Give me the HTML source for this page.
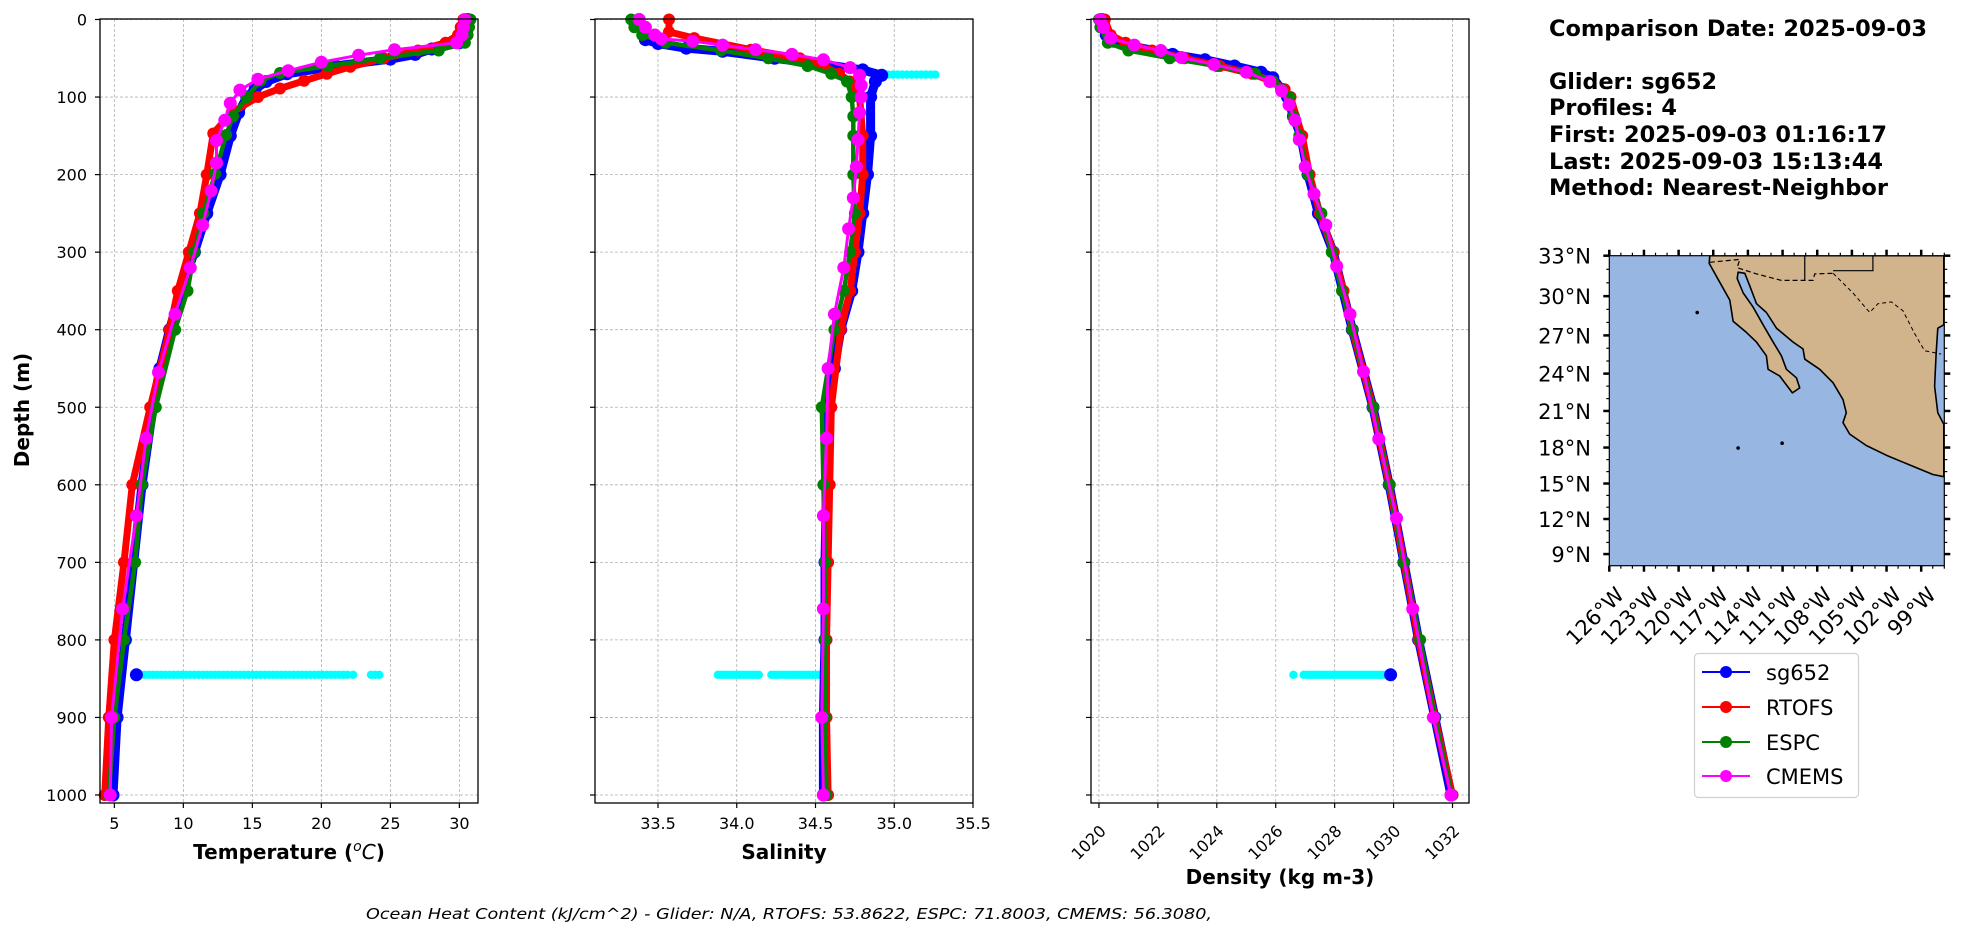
<!DOCTYPE html>
<html><head><meta charset="utf-8"><style>
html,body{margin:0;padding:0;background:#fff;}
svg{display:block;font-family:"DejaVu Sans","Liberation Sans",sans-serif;}
</style></head><body>
<svg id="fig" width="1978" height="934" viewBox="0 0 1978 934" xmlns="http://www.w3.org/2000/svg"></svg>
<script>
// ---------- DATA ----------
const depthTicks = [0,100,200,300,400,500,600,700,800,900,1000];
const tempTicks = [5,10,15,20,25,30];
const salTicks = ["33.5","34.0","34.5","35.0","35.5"];
const densTicks = [1020,1022,1024,1026,1028,1030,1032];

// Temperature
const tDepthSg = [0,10,20,30,38,45,51,60,70,80,90,100,120,150,200,250,300,350,400,450,500,600,700,800,900,1000];
const tSg      = [30.6,30.5,30.3,30.0,28.0,26.8,25.0,21.0,17.5,16.0,15.2,14.6,14.0,13.4,12.66,11.7,10.8,9.8,9.0,8.3,7.8,7.0,6.4,5.8,5.2,4.9];
const tDepthRt = [0,10,20,30,40,50,61,70,79,89,100,120,147,200,250,300,350,400,500,600,700,800,900,1000];
const tRt      = [30.3,30.1,29.9,29.0,27.0,24.5,22.1,20.4,18.75,17.0,15.4,13.5,12.17,11.7,11.2,10.4,9.6,9.0,7.6,6.3,5.7,5.0,4.6,4.3];
const tDepthEs = [0,10,20,30,40,50,60,69,79,100,125,149,199,250,300,350,400,500,600,700,800,900,1000];
const tEs      = [30.8,30.7,30.6,30.4,28.5,24.25,20.5,17.0,15.6,14.6,13.6,13.1,12.3,11.45,10.8,10.3,9.4,8.0,7.0,6.5,5.7,5.0,4.6];
const tDepthCm = [0,10,20,30,39,46,55,66,77,91,108,130,156,185,221,265,320,380,455,540,640,760,900,1000];
const tCm      = [30.4,30.3,30.2,29.8,25.3,22.7,20.0,17.6,15.4,14.1,13.4,13.0,12.4,12.4,12.0,11.4,10.5,9.4,8.2,7.3,6.6,5.6,4.8,4.7];
const tCyanDepth = 845;
const tCyan = [6.9,7.2,7.5,7.8,8.1,8.4,8.7,9.0,9.3,9.6,9.9,10.2,10.5,10.8,11.1,11.4,11.7,12.0,12.3,12.6,12.9,13.2,13.5,13.8,14.1,14.4,14.7,15.0,15.3,15.6,15.9,16.2,16.5,16.8,17.1,17.4,17.7,18.0,18.3,18.6,18.9,19.2,19.5,19.8,20.1,20.4,20.7,21.0,21.3,21.6,21.9,22.3,23.6,23.9,24.2];
const tOutlier = [6.6];

// Salinity
const sDepthSg = [0,10,20,26,31,37,41,50,58,65,72,80,100,150,200,250,300,350,400,450,500,600,700,800,900,1000];
const sSg      = [33.38,33.40,33.42,33.42,33.50,33.68,33.91,34.24,34.55,34.80,34.92,34.88,34.85,34.85,34.83,34.80,34.77,34.73,34.66,34.62,34.58,34.57,34.56,34.56,34.55,34.55];
const sDepthRt = [0,16,24,39,50,60,70,80,100,150,200,250,300,350,400,500,600,700,800,900,1000];
const sRt      = [33.57,33.57,33.73,34.09,34.40,34.55,34.65,34.72,34.78,34.80,34.80,34.78,34.75,34.72,34.66,34.60,34.59,34.58,34.57,34.57,34.58];
const sDepthEs = [0,10,20,30,40,50,60,70,80,100,125,150,200,250,300,350,400,500,600,700,800,900,1000];
const sEs      = [33.33,33.35,33.40,33.55,33.90,34.20,34.45,34.60,34.70,34.73,34.74,34.74,34.74,34.75,34.72,34.68,34.62,34.54,34.55,34.56,34.56,34.56,34.57];
const sDepthCm = [0,10,20,25,28,33,39,45,52,62,72,85,100,120,155,190,230,270,320,380,450,540,640,760,900,1000];
const sCm      = [33.38,33.42,33.48,33.52,33.72,33.91,34.12,34.35,34.55,34.72,34.78,34.79,34.79,34.78,34.77,34.76,34.74,34.71,34.68,34.62,34.58,34.57,34.55,34.55,34.54,34.55];
const sCyanDepthA = 71;
const sCyanA = [34.96,34.99,35.02,35.05,35.08,35.11,35.14,35.17,35.20,35.23,35.26];
const sCyanDepthB = 845;
const sCyanB = [33.88,33.90,33.92,33.94,33.96,33.98,34.00,34.02,34.04,34.06,34.08,34.10,34.12,34.14,34.22,34.24,34.26,34.28,34.30,34.32,34.34,34.36,34.38,34.40,34.42,34.44,34.46,34.48,34.50,34.52,34.54];

// Density
const dDepthSg = [0,20,28,35,45,52,60,68,75,90,100,125,150,200,250,300,400,500,600,700,800,900,1000];
const dSg      = [1020.1,1020.25,1020.5,1021.2,1022.5,1023.6,1024.6,1025.5,1025.9,1026.2,1026.4,1026.6,1026.85,1027.1,1027.45,1027.95,1028.6,1029.3,1029.85,1030.35,1030.85,1031.4,1031.95];
const dDepthRt = [0,20,30,40,50,60,70,80,90,100,150,200,250,300,350,400,500,600,700,800,900,1000];
const dRt      = [1020.2,1020.4,1020.9,1021.8,1022.9,1024.1,1025.2,1025.9,1026.3,1026.5,1026.9,1027.15,1027.5,1027.95,1028.3,1028.6,1029.3,1029.85,1030.35,1030.85,1031.4,1032.0];
const dDepthEs = [0,10,30,40,50,60,70,80,90,100,125,150,200,250,300,350,400,500,600,700,800,900,1000];
const dEs      = [1020.0,1020.05,1020.3,1021.0,1022.4,1024.0,1025.3,1025.9,1026.2,1026.45,1026.6,1026.8,1027.1,1027.55,1027.9,1028.25,1028.6,1029.3,1029.85,1030.35,1030.9,1031.4,1031.98];
const dDepthCm = [0,10,24,33,40,49,58,68,80,92,110,130,155,190,225,265,318,380,454,541,643,760,900,1000];
const dCm      = [1020.05,1020.15,1020.4,1021.2,1022.1,1022.8,1023.9,1025.0,1025.8,1026.2,1026.45,1026.65,1026.8,1027.0,1027.3,1027.7,1028.07,1028.52,1028.98,1029.5,1030.1,1030.65,1031.35,1031.95];
const dCyanDepth = 845;
const dCyan = [1026.6,1026.95,1027.05,1027.15,1027.25,1027.35,1027.45,1027.55,1027.65,1027.75,1027.85,1027.95,1028.05,1028.15,1028.25,1028.35,1028.45,1028.55,1028.65,1028.75,1028.85,1028.95,1029.05,1029.15,1029.25,1029.35,1029.45,1029.55,1029.65,1029.75];
const dOutlier = [1029.9];

// Map
const latTicks = [9,12,15,18,21,24,27,30,33];
const lonTicks = [-126,-123,-120,-117,-114,-111,-108,-105,-102,-99];
const landLon = [-117.30,-117.35,-116.43,-115.57,-115.28,-114.13,-113.26,-112.40,-112.25,-111.24,-110.15,-109.52,-109.80,-110.67,-111.10,-111.82,-112.69,-113.55,-114.41,-114.93,-114.85,-114.27,-113.84,-113.26,-112.40,-111.53,-110.09,-109.23,-109.08,-107.79,-106.63,-105.77,-105.48,-105.77,-105.19,-103.75,-102.02,-100.01,-97.99,-97.04,-97.04,-97.56,-97.84,-97.70,-97.56,-97.04,-97.04];
const landLat = [33,32.44,31.04,29.70,28.09,27.23,26.48,25.41,24.34,23.80,22.46,22.86,23.67,24.34,25.41,26.48,27.82,29.17,30.24,31.31,31.79,31.71,30.77,29.43,28.76,27.56,26.48,25.95,25.14,24.34,23.27,21.92,20.85,20.05,19.11,18.17,17.37,16.56,15.76,15.57,19.91,20.85,23.0,25.68,27.56,27.82,33];
const borderLon = [-117.3,-114.7,-114.93,-113.26,-111.1,-108.36,-108.22,-106.63];
const borderLat = [32.52,32.73,32.12,31.66,31.18,31.18,31.66,31.71];
const stateLon = [-106.63,-104.9,-103.46,-102.74,-101.59,-100.58,-99.57,-98.71,-97.27];
const stateLat = [31.71,30.24,28.76,29.43,29.57,28.9,27.15,25.81,25.54];
const islandLon = [-118.39,-111.04,-114.85];
const islandLat = [28.76,18.36,17.96];

// ---------- HELPERS ----------
const NS = "http://www.w3.org/2000/svg";
const svg = document.getElementById('fig');
function mk(tag, parent, attrs){ const e=document.createElementNS(NS,tag); for(const k in attrs) e.setAttribute(k,attrs[k]); parent.appendChild(e); return e; }
const yTop=19, yBot=803;
function yD(d){ return 19.5 + d*0.7755; }

const panels = [
  {name:'temperature', x0:100, x1:478, min:3.96, max:31.35},
  {name:'salinity', x0:595, x1:973, min:33.10, max:35.50},
  {name:'density', x0:1091, x1:1469, min:1019.73, max:1032.56}
];
function xs(p,v){ return p.x0 + (v-p.min)/(p.max-p.min)*(p.x1-p.x0); }

function drawSeries(g,p,depths,vals,color,lw,r,name){
  const sg=mk('g',g,{});
  
  
  let d='';
  for(let i=0;i<vals.length;i++){ d+=(i?'L':'M')+xs(p,vals[i]).toFixed(1)+' '+yD(depths[i]).toFixed(1); }
  const path=mk('path',sg,{d:d,fill:'none',stroke:color,'stroke-width':lw,'stroke-linejoin':'round'});
  
  
  for(let i=0;i<vals.length;i++){
    const c=mk('circle',sg,{cx:xs(p,vals[i]).toFixed(1),cy:yD(depths[i]).toFixed(1),r:r,fill:color});
    
    
  }
}
function drawRow(g,p,depth,vals,color,r,name){
  for(let i=0;i<vals.length;i++){
    const c=mk('circle',g,{cx:xs(p,vals[i]).toFixed(1),cy:yD(depth).toFixed(1),r:r,fill:color});
    
    
  }
}

function drawPanel(p, ticks){
  const g=mk('g',svg,{});
  
  
  for(const t of ticks){
    const x=xs(p,+t);
    const l=mk('line',g,{x1:x,x2:x,y1:yTop,y2:yBot,stroke:'#b0b0b0','stroke-width':0.8,'stroke-dasharray':'3,2'});
    
    
  }
  for(const d of depthTicks){
    const y=yD(d);
    const l=mk('line',g,{x1:p.x0,x2:p.x1,y1:y,y2:y,stroke:'#b0b0b0','stroke-width':0.8,'stroke-dasharray':'3,2'});
    
    
  }
  return g;
}
function drawFrame(p, ticks, labels, showYLabels, rotated){
  const g=mk('g',svg,{});
  
  
  const r=mk('rect',g,{x:p.x0,y:yTop,width:p.x1-p.x0,height:yBot-yTop,fill:'none',stroke:'#000','stroke-width':1.3});
  
  
  for(const d of depthTicks){
    const y=yD(d);
    const t=mk('line',g,{x1:p.x0-5,x2:p.x0,y1:y,y2:y,stroke:'#000','stroke-width':1.2});
    
    
    if(showYLabels){
      const tx=mk('text',g,{x:87,y:y+6,'text-anchor':'end','font-size':16});
      tx.textContent=d;
      
      
    }
  }
  for(let i=0;i<ticks.length;i++){
    const x=xs(p,+ticks[i]);
    const t=mk('line',g,{x1:x,x2:x,y1:yBot,y2:yBot+5,stroke:'#000','stroke-width':1.2});
    
    
    let tx;
    if(rotated){
      tx=mk('text',g,{x:x+8,y:832,'text-anchor':'end','font-size':16,transform:'rotate(-45 '+(x+8)+' 832)'});
    } else {
      tx=mk('text',g,{x:x,y:829,'text-anchor':'middle','font-size':16});
    }
    tx.textContent=labels[i];
    
    
  }
}

// ---------- PANELS ----------
const P1=panels[0], P2=panels[1], P3=panels[2];
const g1=drawPanel(P1,tempTicks);
drawRow(g1,P1,tCyanDepth,tCyan,'#00ffff',4.2,'cyan-glider-point');
drawSeries(g1,P1,tDepthSg,tSg,'#0000ff',9,6.5,'sg652-temperature');
drawRow(g1,P1,845,tOutlier,'#0000ff',6.5,'sg652-outlier-point');
drawSeries(g1,P1,tDepthRt,tRt,'#ff0000',7,6,'rtofs-temperature');
drawSeries(g1,P1,tDepthEs,tEs,'#008000',4.5,6,'espc-temperature');
drawSeries(g1,P1,tDepthCm,tCm,'#ff00ff',3,6.5,'cmems-temperature');
drawFrame(P1,tempTicks,tempTicks,true,false);

const g2=drawPanel(P2,salTicks);
drawRow(g2,P2,sCyanDepthA,sCyanA,'#00ffff',4.2,'cyan-glider-point');
drawRow(g2,P2,sCyanDepthB,sCyanB,'#00ffff',4.2,'cyan-glider-point');
drawSeries(g2,P2,sDepthSg,sSg,'#0000ff',9,6.5,'sg652-salinity');
drawSeries(g2,P2,sDepthRt,sRt,'#ff0000',7,6,'rtofs-salinity');
drawSeries(g2,P2,sDepthEs,sEs,'#008000',4.5,6,'espc-salinity');
drawSeries(g2,P2,sDepthCm,sCm,'#ff00ff',3,6.5,'cmems-salinity');
drawFrame(P2,salTicks,salTicks,false,false);

const g3=drawPanel(P3,densTicks);
drawRow(g3,P3,dCyanDepth,dCyan,'#00ffff',4.2,'cyan-glider-point');
drawSeries(g3,P3,dDepthSg,dSg,'#0000ff',9,6.5,'sg652-density');
drawRow(g3,P3,845,dOutlier,'#0000ff',6.5,'sg652-outlier-point');
drawSeries(g3,P3,dDepthRt,dRt,'#ff0000',7,6,'rtofs-density');
drawSeries(g3,P3,dDepthEs,dEs,'#008000',4.5,6,'espc-density');
drawSeries(g3,P3,dDepthCm,dCm,'#ff00ff',3,6.5,'cmems-density');
drawFrame(P3,densTicks,densTicks,false,true);

// ---------- MAP ----------
const mx0=1609.3, mx1=1944.3, my0=255.7, my1=565.7;
function merc(lat){ return Math.log(Math.tan(Math.PI/4 + lat*Math.PI/360)); }
const K = (my1-my0)/(merc(33)-merc(8));
function mX(lon){ return mx0 + (lon+126)*(mx1-mx0)/29; }
function mY(lat){ return my0 + (merc(33)-merc(lat))*K; }
const mg=mk('g',svg,{});


const clip=mk('clipPath',mg,{id:'mapclip'});
mk('rect',clip,{x:mx0,y:my0,width:mx1-mx0,height:my1-my0});
const ocean=mk('rect',mg,{x:mx0,y:my0,width:mx1-mx0,height:my1-my0,fill:'#97b6e1'});


const inner=mk('g',mg,{'clip-path':'url(#mapclip)'});
let lp='';
for(let i=0;i<landLon.length;i++) lp+=(i?'L':'M')+mX(landLon[i]).toFixed(1)+' '+mY(landLat[i]).toFixed(1);
const land=mk('path',inner,{d:lp+'Z',fill:'#d2b48c',stroke:'#000','stroke-width':1.6,'stroke-linejoin':'round'});


let bp='';
for(let i=0;i<borderLon.length;i++) bp+=(i?'L':'M')+mX(borderLon[i]).toFixed(1)+' '+mY(borderLat[i]).toFixed(1);
const border=mk('path',inner,{d:bp,fill:'none',stroke:'#000','stroke-width':1.2,'stroke-dasharray':'5,3'});


let sp='';
for(let i=0;i<stateLon.length;i++) sp+=(i?'L':'M')+mX(stateLon[i]).toFixed(1)+' '+mY(stateLat[i]).toFixed(1);
const stl=mk('path',inner,{d:sp,fill:'none',stroke:'#000','stroke-width':1,'stroke-dasharray':'4,3'});


const usl=mk('path',inner,{d:'M'+mX(-109.08)+' '+mY(33)+'L'+mX(-109.08)+' '+mY(31.18)+'M'+mX(-106.63)+' '+mY(31.9)+'L'+mX(-103.18)+' '+mY(31.9)+'L'+mX(-103.18)+' '+mY(33),fill:'none',stroke:'#000','stroke-width':1.2});


for(let i=0;i<islandLon.length;i++){
  const c=mk('circle',inner,{cx:mX(islandLon[i]),cy:mY(islandLat[i]),r:1.8,fill:'#000'});
  
  
}
const mframe=mk('rect',mg,{x:mx0,y:my0,width:mx1-mx0,height:my1-my0,fill:'none',stroke:'#000','stroke-width':1.2});


for(let lat=9;lat<=33;lat++){
  const y=mY(lat), major=(lat%3===0), L=major?6:3, w=major?2.5:1.2;
  mk('line',mg,{x1:mx0-L,x2:mx0,y1:y,y2:y,stroke:'#000','stroke-width':w});
  mk('line',mg,{x1:mx1,x2:mx1+L,y1:y,y2:y,stroke:'#000','stroke-width':w});
}
for(let lon=-126;lon<=-97;lon++){
  const x=mX(lon), major=((lon+126)%3===0), L=major?6:3, w=major?2.5:1.2;
  mk('line',mg,{x1:x,x2:x,y1:my0-L,y2:my0,stroke:'#000','stroke-width':w});
  mk('line',mg,{x1:x,x2:x,y1:my1,y2:my1+L,stroke:'#000','stroke-width':w});
}
for(const lat of latTicks){
  const t=mk('text',mg,{x:1591,y:mY(lat)+8,'text-anchor':'end','font-size':21});
  t.textContent=lat+'°N';
  
  
}
for(const lon of lonTicks){
  const x=mX(lon)+16, y=596;
  const t=mk('text',mg,{x:x,y:y,'text-anchor':'end','font-size':21,transform:'rotate(-45 '+x+' '+y+')'});
  t.textContent=(-lon)+'°W';
  
  
}
</script>
<svg style="position:absolute;left:0;top:0" width="1978" height="934" viewBox="0 0 1978 934" xmlns="http://www.w3.org/2000/svg" font-family="DejaVu Sans, Liberation Sans, sans-serif">
  <text x="0" y="0" transform="translate(29 410) rotate(-90)" text-anchor="middle" font-size="20" font-weight="bold">Depth (m)</text>
  <text x="289" y="859" text-anchor="middle" font-size="20" font-weight="bold">Temperature (<tspan font-size="14" dy="-8" font-style="italic" font-weight="normal">o</tspan><tspan dy="8" font-style="italic" font-weight="normal">C</tspan>)</text>
  <text x="784" y="859" text-anchor="middle" font-size="20" font-weight="bold">Salinity</text>
  <text x="1280" y="884" text-anchor="middle" font-size="20" font-weight="bold">Density (kg m-3)</text>
  <text x="366" y="919" font-size="15" font-style="italic" textLength="846" lengthAdjust="spacingAndGlyphs">Ocean Heat Content (kJ/cm^2) - Glider: N/A,  RTOFS: 53.8622,  ESPC: 71.8003,  CMEMS: 56.3080,</text>
  <g font-size="22" font-weight="bold">
    <text x="1549" y="36" textLength="378" lengthAdjust="spacingAndGlyphs">Comparison Date: 2025-09-03</text>
    <text x="1549" y="89" textLength="168" lengthAdjust="spacingAndGlyphs">Glider: sg652</text>
    <text x="1549" y="115" textLength="128" lengthAdjust="spacingAndGlyphs">Profiles: 4</text>
    <text x="1549" y="142" textLength="338" lengthAdjust="spacingAndGlyphs">First: 2025-09-03 01:16:17</text>
    <text x="1549" y="169" textLength="334" lengthAdjust="spacingAndGlyphs">Last: 2025-09-03 15:13:44</text>
    <text x="1549" y="195" textLength="339" lengthAdjust="spacingAndGlyphs">Method: Nearest-Neighbor</text>
  </g>
  <g>
    <rect x="1694.5" y="653.5" width="164" height="144" rx="4" fill="#fff" fill-opacity="0.8" stroke="#d0d0d0" stroke-width="1.2"/>
    <g><line x1="1702" x2="1750" y1="672" y2="672" stroke="#0000ff" stroke-width="2"/><circle cx="1726" cy="672" r="6" fill="#0000ff"/><text x="1766" y="680" font-size="21">sg652</text></g>
    <g><line x1="1702" x2="1750" y1="707" y2="707" stroke="#ff0000" stroke-width="2"/><circle cx="1726" cy="707" r="6" fill="#ff0000"/><text x="1766" y="715" font-size="21">RTOFS</text></g>
    <g><line x1="1702" x2="1750" y1="742" y2="742" stroke="#008000" stroke-width="2"/><circle cx="1726" cy="742" r="6" fill="#008000"/><text x="1766" y="750" font-size="21">ESPC</text></g>
    <g><line x1="1702" x2="1750" y1="776" y2="776" stroke="#ff00ff" stroke-width="2"/><circle cx="1726" cy="776" r="6" fill="#ff00ff"/><text x="1766" y="784" font-size="21">CMEMS</text></g>
  </g>
</svg>
</body></html>
